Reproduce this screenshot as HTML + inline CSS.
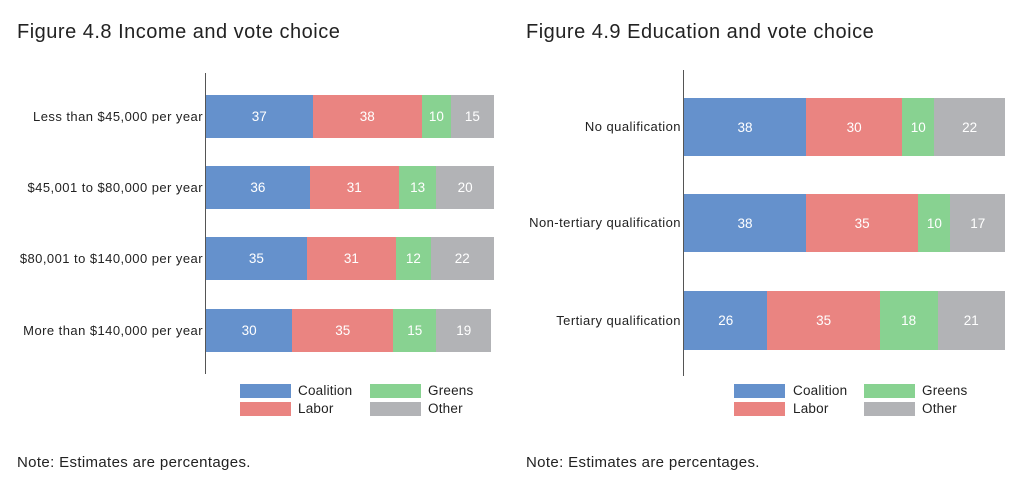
<!DOCTYPE html>
<html><head><style>
body{margin:0;width:1023px;height:491px;background:#fff;position:relative;font-family:"Liberation Sans",sans-serif;color:#222;overflow:hidden}
div{position:absolute}
.t{font-size:20px;letter-spacing:0.5px;color:#222}
.lab{font-size:13px;letter-spacing:0.45px;text-align:right;white-space:nowrap}
.seg{color:#fff;font-size:13.5px;display:flex;align-items:center;justify-content:center}
.b{background:#6591cc}.r{background:#ea8481}.g{background:#88d291}.o{background:#b2b3b6}
.ax{width:1px;background:#555}
.sw{width:51px;height:14px}
.lt{font-size:13.5px;letter-spacing:0.2px}
.note{font-size:15px;letter-spacing:0.35px}
</style></head><body>
<div class="t" style="left:17px;top:21px">Figure 4.8 Income and vote choice</div>
<div class="t" style="left:526px;top:21px">Figure 4.9 Education and vote choice</div>

<div class="ax" style="left:205px;top:73px;height:301px"></div>
<div class="ax" style="left:683px;top:70px;height:306px"></div>

<div id="L"></div>
<div id="R"></div>
<script>
function rows(cont,x0,w,rows){
 var h='';
 rows.forEach(function(r){
  h+='<div class="lab" style="right:'+(1023-x0+3)+'px;top:'+(r.y+r.h/2-8)+'px">'+r.l+'</div>';
  var x=x0,c=['b','r','g','o'];
  r.v.forEach(function(v,i){var ww=v/100*w;h+='<div class="seg '+c[i]+'" style="left:'+x+'px;top:'+r.y+'px;width:'+ww+'px;height:'+r.h+'px">'+v+'</div>';x+=ww;});
 });
 document.getElementById(cont).outerHTML=h;
}
rows('L',206,288,[
{l:'Less than $45,000 per year',y:95,h:43,v:[37,38,10,15]},
{l:'$45,001 to $80,000 per year',y:166,h:43,v:[36,31,13,20]},
{l:'$80,001 to $140,000 per year',y:237,h:43,v:[35,31,12,22]},
{l:'More than $140,000 per year',y:309,h:43,v:[30,35,15,19]}]);
rows('R',684,321,[
{l:'No qualification',y:98,h:58,v:[38,30,10,22]},
{l:'Non-tertiary qualification',y:194,h:58,v:[38,35,10,17]},
{l:'Tertiary qualification',y:291,h:59,v:[26,35,18,21]}]);
</script>

<div class="sw b" style="left:240px;top:384px"></div><div class="lt" style="left:298px;top:383px">Coalition</div>
<div class="sw r" style="left:240px;top:402px"></div><div class="lt" style="left:298px;top:401px">Labor</div>
<div class="sw g" style="left:370px;top:384px"></div><div class="lt" style="left:428px;top:383px">Greens</div>
<div class="sw o" style="left:370px;top:402px"></div><div class="lt" style="left:428px;top:401px">Other</div>

<div class="sw b" style="left:734px;top:384px"></div><div class="lt" style="left:793px;top:383px">Coalition</div>
<div class="sw r" style="left:734px;top:402px"></div><div class="lt" style="left:793px;top:401px">Labor</div>
<div class="sw g" style="left:864px;top:384px"></div><div class="lt" style="left:922px;top:383px">Greens</div>
<div class="sw o" style="left:864px;top:402px"></div><div class="lt" style="left:922px;top:401px">Other</div>

<div class="note" style="left:17px;top:454px">Note: Estimates are percentages.</div>
<div class="note" style="left:526px;top:454px">Note: Estimates are percentages.</div>
</body></html>
